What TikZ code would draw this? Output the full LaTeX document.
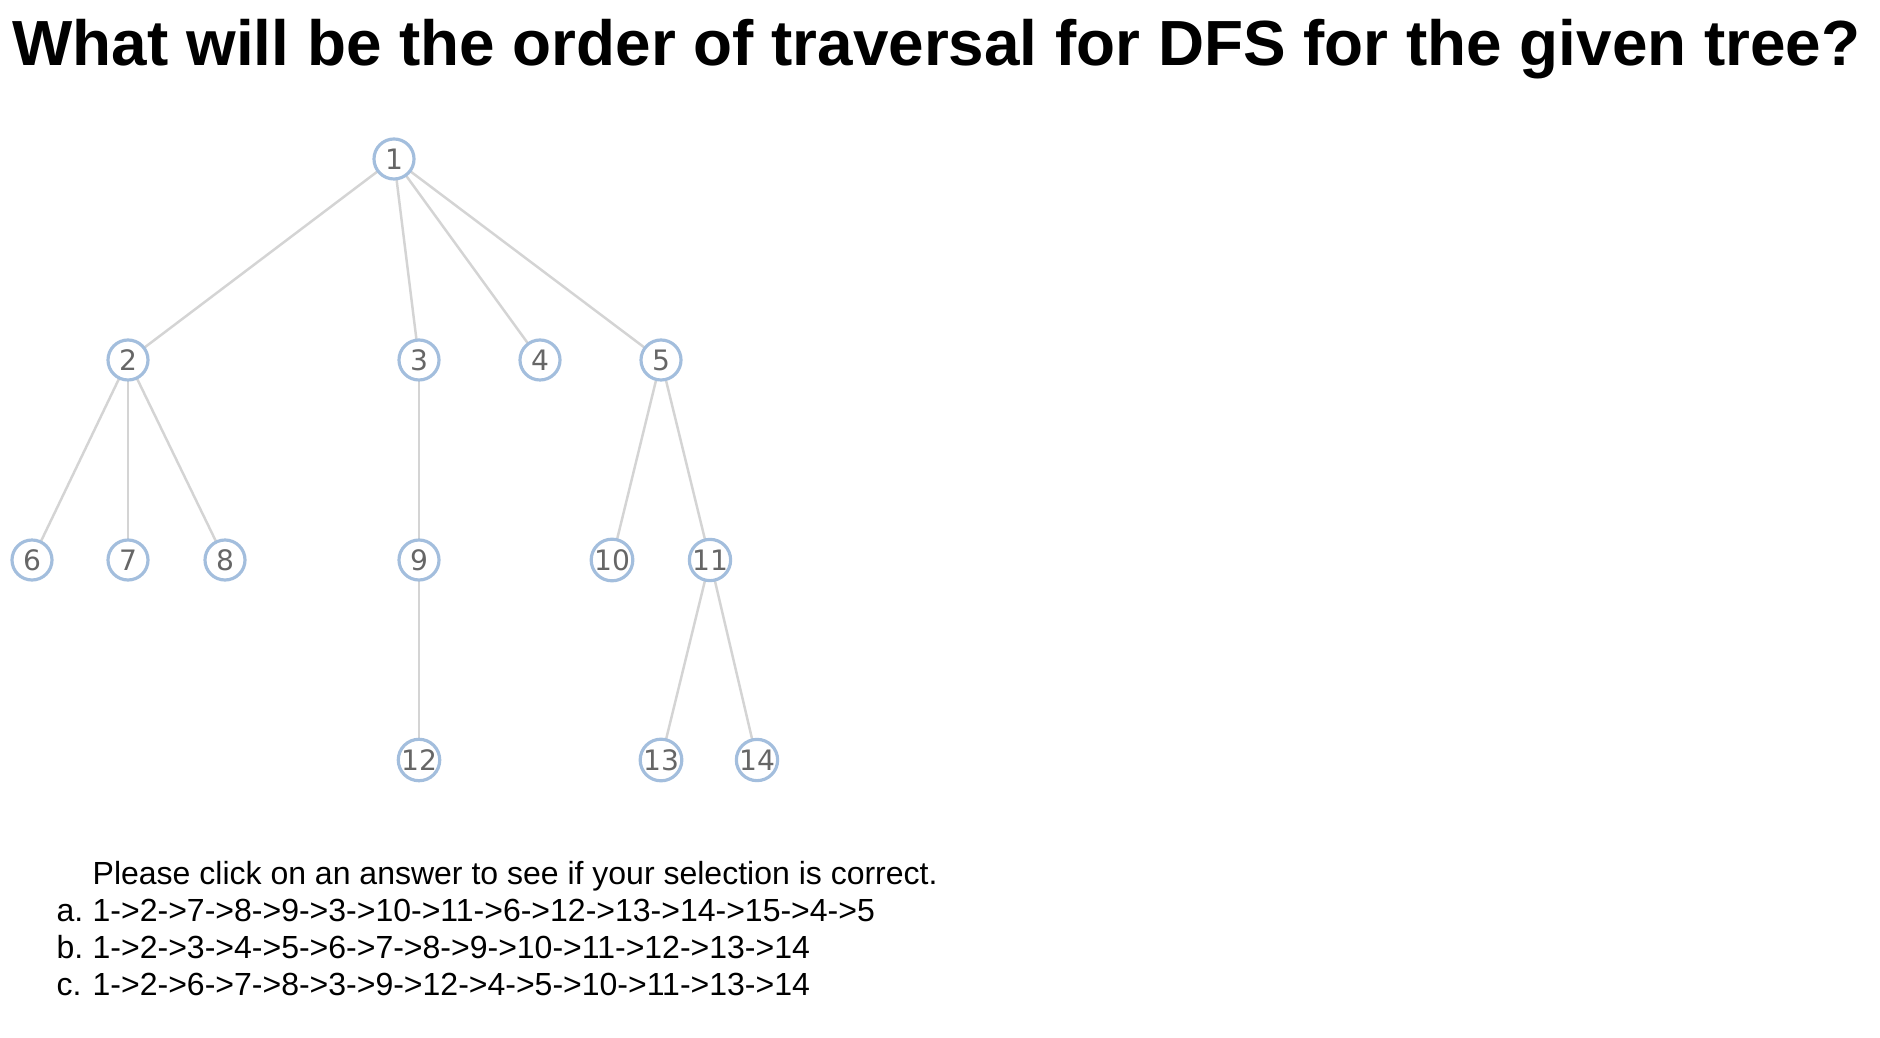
\documentclass[tikz,border=0pt]{standalone}
\usepackage{fontspec}
\setmainfont{Liberation Sans}
\newfontfamily\nodefont{DejaVu Sans}
\definecolor{ringblue}{HTML}{A3BEDD}
\definecolor{edgegray}{HTML}{D4D4D4}
\definecolor{labelgray}{HTML}{666666}
\begin{document}
\begin{tikzpicture}[x=0.01cm,y=-0.01cm,
  tnode/.style={circle,draw=ringblue,line width=0.9pt,fill=white,minimum size=0.4cm,inner sep=0pt,
    font=\nodefont\fontsize{8}{8}\selectfont,text=labelgray},
  tedge/.style={draw=edgegray,line width=0.7pt},
  txt/.style={anchor=base west,inner sep=0pt,font=\fontsize{9.1}{11}\selectfont}]
\useasboundingbox[fill=white] (0,0) rectangle (1880,1037);
\node[anchor=base west,inner sep=0pt,font=\bfseries\fontsize{18.15}{22}\selectfont] (title) at (12,66) {What will be the order of traversal for DFS for the given tree?};
\coordinate (p1) at (394,159);
\coordinate (p2) at (128,360);
\coordinate (p3) at (419,360);
\coordinate (p4) at (540,360);
\coordinate (p5) at (661,360);
\coordinate (p6) at (32,560);
\coordinate (p7) at (128,560);
\coordinate (p8) at (225,560);
\coordinate (p9) at (419,560);
\coordinate (p10) at (612,560);
\coordinate (p11) at (710,560);
\coordinate (p12) at (419,760);
\coordinate (p13) at (661,760);
\coordinate (p14) at (757,760);
\foreach \a/\b in {1/2,1/3,1/4,1/5,2/6,2/7,2/8,3/9,9/12,5/10,5/11,11/13,11/14}
  \draw[tedge] (p\a) -- (p\b);
\foreach \i in {1,...,14}
  \node[tnode] (n\i) at (p\i) {\i};
\node[txt] (q) at (92,884) {Please click on an answer to see if your selection is correct.};
\node[txt] (la) at (56,921) {a.};
\node[txt] (a) at (92,921) {1->2->7->8->9->3->10->11->6->12->13->14->15->4->5};
\node[txt] (lb) at (56,958) {b.};
\node[txt] (b) at (92,958) {1->2->3->4->5->6->7->8->9->10->11->12->13->14};
\node[txt] (lc) at (56,995) {c.};
\node[txt] (c) at (92,995) {1->2->6->7->8->3->9->12->4->5->10->11->13->14};
\end{tikzpicture}
\end{document}
